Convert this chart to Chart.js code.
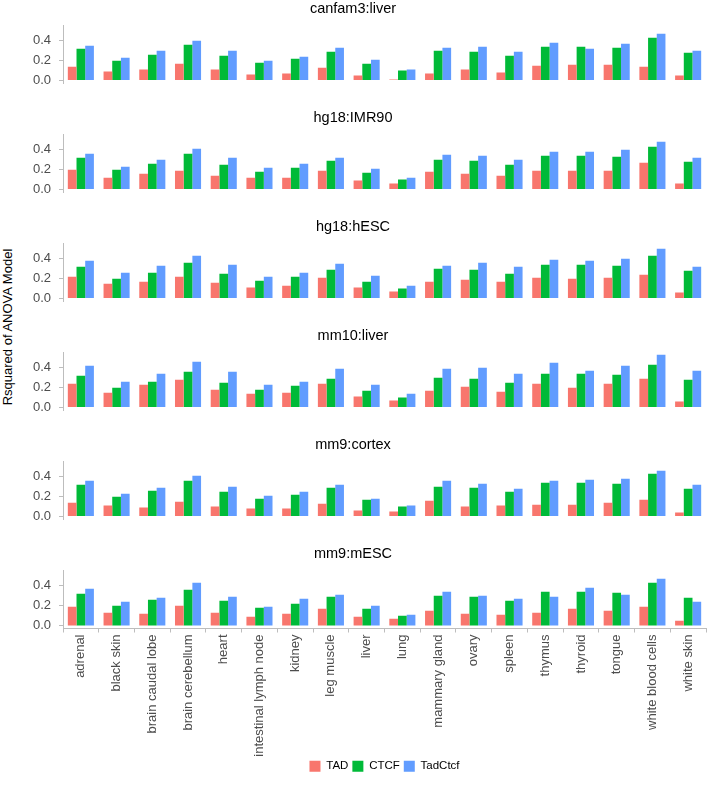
<!DOCTYPE html>
<html>
<head>
<meta charset="utf-8">
<script src="https://cdn.jsdelivr.net/npm/chart.js@4"></script>
<style>
  body { margin: 0; background: #fff; font-family: "Liberation Sans", Arial, sans-serif; }
  #wrap { position: relative; width: 709px; height: 789px; }
  .panel { position: absolute; left: 0; width: 709px; }
  #ylab {
    position: absolute; left: 7px; top: 327px;
    transform: translate(-50%, -50%) rotate(-90deg);
    white-space: nowrap; font-size: 13px; color: #000;
  }
</style>
</head>
<body>
<div id="wrap">
  <div id="ylab">Rsquared of ANOVA Model</div>
</div>
<script>
const categories = ["adrenal", "black skin", "brain caudal lobe", "brain cerebellum", "heart",
  "intestinal lymph node", "kidney", "leg muscle", "liver", "lung", "mammary gland", "ovary",
  "spleen", "thymus", "thyroid", "tongue", "white blood cells", "white skin"];

const seriesNames = ["TAD", "CTCF", "TadCtcf"];
const seriesColors = ["#F8766D", "#00BA38", "#619CFF"];

const panelTitles = ["canfam3:liver", "hg18:IMR90", "hg18:hESC", "mm10:liver", "mm9:cortex", "mm9:mESC"];

// CTCF alone is the same in every panel
const ctcf = [0.32, 0.20, 0.26, 0.36, 0.25, 0.18, 0.22, 0.29, 0.17, 0.10, 0.30, 0.29, 0.25, 0.34, 0.34, 0.33, 0.43, 0.28];

const tadCanfam3Liver = [0.14, 0.09, 0.11, 0.17, 0.11, 0.06, 0.07, 0.13, 0.05, 0.01, 0.07, 0.11, 0.08, 0.15, 0.16, 0.16, 0.14, 0.05];
const bothCanfam3Liver = [0.35, 0.23, 0.30, 0.40, 0.30, 0.20, 0.24, 0.33, 0.21, 0.11, 0.33, 0.34, 0.29, 0.38, 0.32, 0.37, 0.47, 0.30];

const tadHg18Imr90 = [0.20, 0.12, 0.16, 0.19, 0.14, 0.12, 0.12, 0.19, 0.09, 0.06, 0.18, 0.16, 0.14, 0.19, 0.19, 0.19, 0.27, 0.06];
const bothHg18Imr90 = [0.36, 0.23, 0.30, 0.41, 0.32, 0.22, 0.26, 0.32, 0.21, 0.12, 0.35, 0.34, 0.30, 0.38, 0.38, 0.40, 0.48, 0.32];

const tadHg18Hesc = [0.22, 0.15, 0.17, 0.22, 0.16, 0.11, 0.13, 0.21, 0.11, 0.07, 0.17, 0.19, 0.17, 0.21, 0.20, 0.21, 0.24, 0.06];
const bothHg18Hesc = [0.38, 0.26, 0.33, 0.43, 0.34, 0.22, 0.26, 0.35, 0.23, 0.13, 0.33, 0.36, 0.32, 0.39, 0.38, 0.40, 0.50, 0.32];

const tadMm10Liver = [0.24, 0.15, 0.23, 0.28, 0.18, 0.14, 0.15, 0.24, 0.11, 0.07, 0.17, 0.21, 0.16, 0.24, 0.20, 0.24, 0.29, 0.06];
const bothMm10Liver = [0.42, 0.26, 0.34, 0.46, 0.36, 0.23, 0.26, 0.39, 0.23, 0.14, 0.39, 0.40, 0.34, 0.45, 0.37, 0.42, 0.53, 0.37];

const tadMm9Cortex = [0.14, 0.11, 0.09, 0.15, 0.10, 0.08, 0.08, 0.13, 0.06, 0.05, 0.16, 0.10, 0.11, 0.12, 0.12, 0.14, 0.17, 0.04];
const bothMm9Cortex = [0.36, 0.23, 0.29, 0.41, 0.30, 0.21, 0.25, 0.32, 0.18, 0.11, 0.36, 0.33, 0.28, 0.36, 0.37, 0.38, 0.46, 0.32];

const tadMm9Mesc = [0.19, 0.13, 0.12, 0.20, 0.13, 0.09, 0.12, 0.17, 0.09, 0.07, 0.15, 0.12, 0.11, 0.13, 0.17, 0.15, 0.19, 0.05];
const bothMm9Mesc = [0.37, 0.24, 0.28, 0.43, 0.29, 0.19, 0.27, 0.31, 0.20, 0.11, 0.34, 0.30, 0.27, 0.29, 0.38, 0.31, 0.47, 0.24];

const yTicks = [0, 0.2, 0.4];

const panels = [
  [tadCanfam3Liver, ctcf, bothCanfam3Liver],
  [tadHg18Imr90, ctcf, bothHg18Imr90],
  [tadHg18Hesc, ctcf, bothHg18Hesc],
  [tadMm10Liver, ctcf, bothMm10Liver],
  [tadMm9Cortex, ctcf, bothMm9Cortex],
  [tadMm9Mesc, ctcf, bothMm9Mesc],
];

const fontFamily = '"Liberation Sans", Arial, sans-serif';
const axisGrey = "#bdbdbd";
const tickText = "#4d4d4d";

Chart.defaults.font.family = fontFamily;
Chart.defaults.animation = false;

const wrap = document.getElementById("wrap");

panels.forEach(function (values, i) {
  const last = i === panels.length - 1;
  const box = document.createElement("div");
  box.className = "panel";
  box.style.top = (109 * i) + "px";
  // the y tick labels reserve ~16px under the plot when there is no x axis
  const h = last ? 244 : 99;
  box.style.height = h + "px";
  const canvas = document.createElement("canvas");
  box.appendChild(canvas);
  wrap.appendChild(box);

  new Chart(canvas.getContext("2d"), {
    type: "bar",
    data: {
      labels: categories,
      datasets: values.map(function (v, s) {
        return {
          label: seriesNames[s],
          data: v,
          backgroundColor: seriesColors[s],
          borderWidth: 0,
          barPercentage: 1.0,
          categoryPercentage: 0.73,
        };
      }),
    },
    options: {
      responsive: true,
      maintainAspectRatio: false,
      layout: { padding: { left: 0, right: 3, top: 0, bottom: last ? 7 : 0 } },
      plugins: {
        title: {
          display: true,
          text: panelTitles[i],
          color: "#000",
          font: { size: 14.5, weight: "normal" },
          padding: { top: 0, bottom: 8 },
        },
        legend: {
          display: last,
          position: "bottom",
          fullSize: false,
          labels: {
            boxWidth: 11,
            boxHeight: 11,
            padding: 4,
            color: "#000",
            font: { size: 11.5 },
          },
        },
        tooltip: { enabled: false },
      },
      scales: {
        x: {
          display: last,
          // long rotated labels: the default height cap would clip them
          afterFit: function (axis) { if (last) axis.height = 128; },
          grid: { display: true, drawOnChartArea: false, tickLength: 4, color: axisGrey },
          border: { display: true, color: axisGrey },
          ticks: {
            autoSkip: false,
            minRotation: 90,
            maxRotation: 90,
            padding: 2,
            color: tickText,
            font: { size: 13 },
          },
        },
        y: {
          min: -0.026,
          max: 0.553,
          afterBuildTicks: function (axis) {
            axis.ticks = yTicks.map(function (v) { return { value: v }; });
          },
          afterFit: function (axis) { axis.width = 63; },
          grid: { display: true, drawOnChartArea: false, tickLength: 4, color: axisGrey },
          border: { display: true, color: axisGrey },
          ticks: {
            padding: 8,
            color: tickText,
            font: { size: 13 },
            callback: function (value) { return Number(value).toFixed(1); },
          },
        },
      },
    },
  });
});
</script>
</body>
</html>
